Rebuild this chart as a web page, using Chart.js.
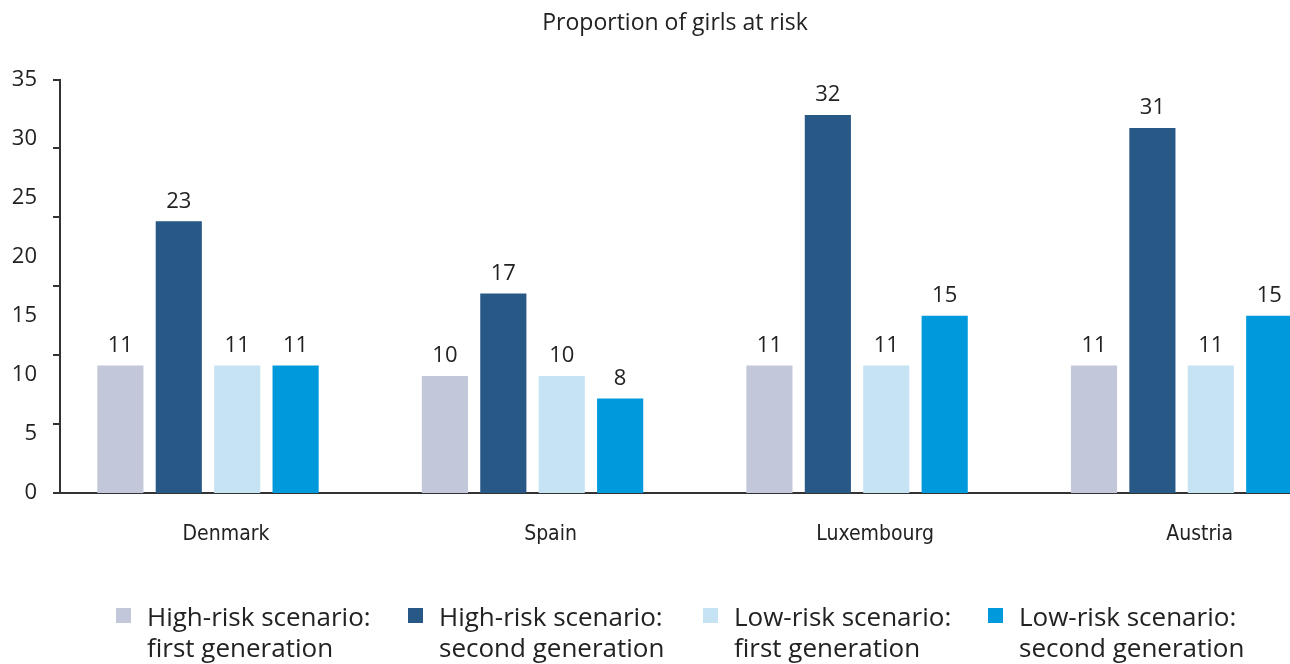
<!DOCTYPE html>
<html>
<head>
<meta charset="utf-8">
<script src="https://cdn.jsdelivr.net/npm/chart.js@4"></script>
<style>
  html, body { margin: 0; padding: 0; background: #fff; overflow: hidden; }
  #wrap { position: relative; width: 1290px; height: 664px; }
  #legend { position: absolute; left: 0; top: 0; width: 1290px; height: 664px; pointer-events: none;
            font-family: "Open Sans", sans-serif; font-size: 26px; color: #222; line-height: 31px; }
  .item { position: absolute; top: 601px; }
  .box { position: absolute; left: 0; top: 7px; width: 15px; height: 15px; }
  .txt { position: absolute; left: 31px; top: 0; white-space: nowrap; }
</style>
</head>
<body>
<div id="wrap">
  <canvas id="chart" width="1290" height="664"></canvas>
  <div id="legend"></div>
</div>
<script>
const countries = ['Denmark', 'Spain', 'Luxembourg', 'Austria'];
const highFirst  = [10.8, 9.9, 10.8, 10.8];
const highSecond = [23, 16.9, 32, 30.9];
const lowFirst   = [10.8, 9.9, 10.8, 10.8];
const lowSecond  = [10.8, 8, 15, 15];
const seriesNames = [
    ['High-risk scenario:', 'first generation'],
    ['High-risk scenario:', 'second generation'],
    ['Low-risk scenario:', 'first generation'],
    ['Low-risk scenario:', 'second generation']
];
const colors = ['#c2c7da', '#285886', '#c5e3f3', '#0099dc'];
const yTicks = [0, 5, 10, 15, 20, 25, 30, 35];

const toPoints = arr => arr.map((v, i) => ({ x: i, y: v }));
const allSeries = [highFirst, highSecond, lowFirst, lowSecond];

// value labels above each bar
const valueLabels = {
    id: 'valueLabels',
    afterDatasetsDraw(chart) {
        const ctx = chart.ctx;
        ctx.save();
        ctx.font = '22px "Open Sans", sans-serif';
        ctx.fillStyle = '#222';
        ctx.textAlign = 'center';
        ctx.textBaseline = 'middle';
        chart.data.datasets.forEach((ds, di) => {
            chart.getDatasetMeta(di).data.forEach((bar, i) => {
                ctx.fillText(Math.round(ds.data[i].y), bar.x, bar.y - 20);
            });
        });
        ctx.restore();
    }
};

// the original axis has 6 evenly spaced tick marks
const axisMarks = {
    id: 'axisMarks',
    afterDraw(chart) {
        const y = chart.scales.y;
        const ctx = chart.ctx;
        ctx.save();
        ctx.strokeStyle = '#333';
        ctx.lineWidth = 2;
        for (let k = 0; k <= 6; k++) {
            const py = Math.round(y.getPixelForValue(35 * k / 6));
            ctx.beginPath();
            ctx.moveTo(y.right - 7, py);
            ctx.lineTo(y.right, py);
            ctx.stroke();
        }
        ctx.restore();
    }
};

const ctx = document.getElementById('chart').getContext('2d');
const chart = new Chart(ctx, {
    type: 'bar',
    data: {
        datasets: allSeries.map((s, i) => ({
            label: seriesNames[i].join(' '),
            data: toPoints(s),
            backgroundColor: colors[i],
            categoryPercentage: 0.72,
            barPercentage: 0.79
        }))
    },
    options: {
        responsive: false,
        animation: false,
        layout: { padding: { top: 0, right: 0, bottom: 111, left: 0 } },
        plugins: {
            legend: { display: false },
            tooltip: { enabled: false },
            title: {
                display: true,
                fullSize: false,
                text: 'Proportion of girls at risk',
                color: '#222',
                font: { family: 'Open Sans', size: 23, weight: 'normal' },
                padding: { top: 10, bottom: 42 }
            }
        },
        scales: {
            x: {
                type: 'linear',
                offset: false,
                bounds: 'ticks',
                min: -0.456,
                max: 3.334,
                afterBuildTicks: s => { s.ticks = countries.map((c, i) => ({ value: i })); },
                afterFit: s => { s.height = 60; },
                grid: { display: false, drawTicks: false },
                border: { display: true, color: '#333', width: 2 },
                ticks: {
                    callback: v => countries[v],
                    color: '#222',
                    padding: 29,
                    labelOffset: 18,
                    maxRotation: 0,
                    font: { family: '"DejaVu Sans Condensed", "DejaVu Sans"', size: 21 }
                }
            },
            y: {
                min: 0,
                max: 35,
                afterBuildTicks: s => { s.ticks = yTicks.map(v => ({ value: v })); },
                afterFit: s => { s.width = 60; },
                grid: { display: false, drawTicks: false },
                border: { display: true, color: '#333', width: 2 },
                ticks: {
                    color: '#222',
                    padding: 23,
                    font: { family: 'Open Sans', size: 22 }
                }
            }
        }
    },
    plugins: [valueLabels, axisMarks]
});

const legendLeft = [116, 408, 703, 988];
const legend = document.getElementById('legend');
seriesNames.forEach((name, i) => {
    const item = document.createElement('div');
    item.className = 'item';
    item.style.left = legendLeft[i] + 'px';
    item.innerHTML = '<div class="box" style="background:' + colors[i] + '"></div>' +
        '<div class="txt">' + name.join('<br>') + '</div>';
    legend.appendChild(item);
});
</script>
</body>
</html>
